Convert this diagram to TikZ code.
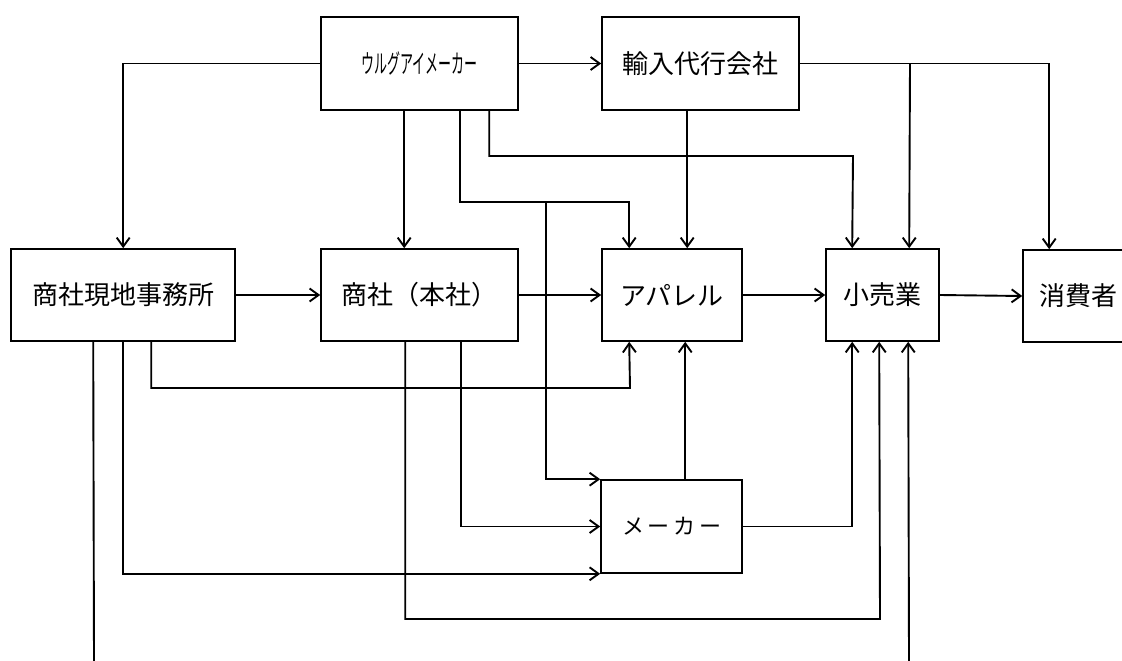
\documentclass[tikz,border=0pt]{standalone}
\usepackage{graphicx}
\usepackage{fontspec}
\newfontfamily\jp{Noto Sans CJK JP}
\usetikzlibrary{arrows.meta}
\begin{document}
\begin{tikzpicture}[x=1pt,y=-1pt,
  box/.style={draw,line width=1.6pt,inner sep=0pt,font=\jp\fontsize{26}{30}\selectfont},
  conn/.style={line width=1.9pt},
  arr/.style={conn,-{Straight Barb[length=9pt,width=13pt]}}]
\useasboundingbox (0,0) rectangle (1122,661);
\clip (0,0) rectangle (1122,661);
% nodes
\node[box,minimum width=197pt,minimum height=93pt] (U) at (419.5,63.5) {\scalebox{0.5}[1]{ウルグアイメーカー}};
\node[box,minimum width=197pt,minimum height=93pt] (I) at (700.5,63.5) {輸入代行会社};
\node[box,minimum width=224pt,minimum height=92pt] (G) at (123,295) {商社現地事務所};
\node[box,minimum width=197pt,minimum height=92pt] (H) at (419.5,295) {商社（本社）};
\node[box,minimum width=140pt,minimum height=92pt] (A) at (672,295) {アパレル};
\node[box,minimum width=113pt,minimum height=92pt] (R) at (882.5,295) {小売業};
\node[box,minimum width=110pt,minimum height=92pt] (C) at (1078,296) {消費者};
\node[box,minimum width=141pt,minimum height=93pt,font=\jp\fontsize{22}{26}\selectfont] (M) at (671.5,526.5) {メ\,ー\,カ\,ー};
% junction / free-end coordinates
\coordinate (j1) at (546,202);
\coordinate (j2) at (853,156);
\coordinate (j3) at (910,63.5);
\coordinate (j4) at (630,388);
\coordinate (j5) at (880,619);
\coordinate (e1) at (94,661);
\coordinate (e2) at (909,661);
% connectors from the Uruguay maker
\draw[arr] (U.west) -| ([xshift=113pt]G.north west);
\draw[arr] (U.east) -- (I.west);
\draw[arr] ([xshift=84pt]U.south west) -- ([xshift=84pt]H.north west);
\draw[arr] ([xshift=140pt]U.south west) |- (j1) -| ([xshift=28pt]A.north west);
\draw[arr] (j1) |- (M.north west);
\draw[arr] ([xshift=169pt]U.south west) |- (j2) -- ([xshift=27pt]R.north west);
% import agent
\draw[arr] (I.east) -| ([xshift=27pt]C.north west);
\draw[arr] (j3) -- ([xshift=84pt]R.north west);
\draw[arr] ([xshift=86pt]I.south west) -- ([xshift=86pt]A.north west);
% main row
\draw[arr] (G.east) -- (H.west);
\draw[arr] (H.east) -- (A.west);
\draw[arr] (A.east) -- (R.west);
\draw[arr] (R.east) -- (C.west);
% from local office
\draw[arr] ([xshift=141pt]G.south west) |- (j4) -- ([xshift=28pt]A.south west);
\draw[arr] ([xshift=113pt]G.south west) |- (M.south west);
\draw[conn] ([xshift=83pt]G.south west) -- (e1);
% from head office
\draw[arr] ([xshift=85pt]H.south west) |- (j5) -- ([xshift=54pt]R.south west);
\draw[arr] ([xshift=141pt]H.south west) |- (M.west);
% maker
\draw[arr] ([xshift=85pt]M.north west) -- ([xshift=84pt]A.south west);
\draw[arr] (M.east) -| ([xshift=27pt]R.south west);
\draw[arr] (e2) -- ([xshift=83pt]R.south west);
\end{tikzpicture}
\end{document}
